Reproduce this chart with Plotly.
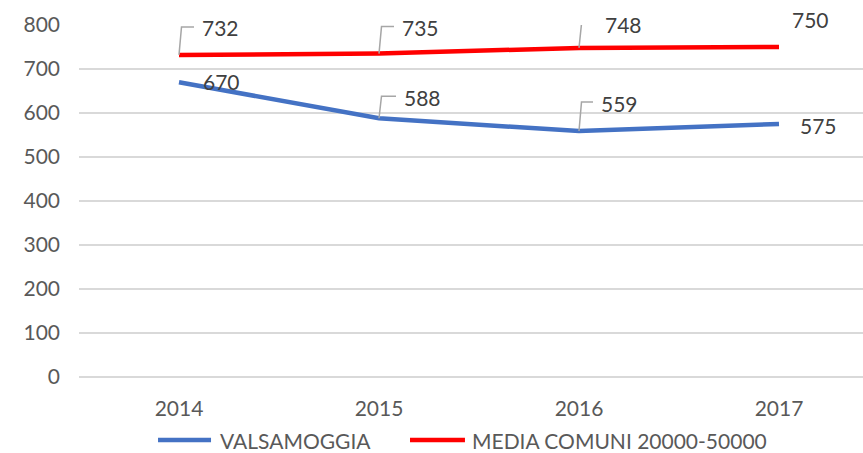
import plotly.graph_objects as go

years = ["2014", "2015", "2016", "2017"]
valsamoggia = [670, 588, 559, 575]
media = [732, 735, 748, 750]
series_names = ["VALSAMOGGIA", "MEDIA COMUNI 20000-50000"]
y_ticks = [0, 100, 200, 300, 400, 500, 600, 700, 800]

# label placement (pixel offsets from point) and whether a leader line is drawn
val_label_off = [(42, 1, False), (43, 21, True), (40, 28, True), (39, -1, False)]
med_label_off = [(41, 27, True), (41, 26, True), (44, 23, True), (31, 28, False)]

BLUE = "#4472C4"
RED = "#FF0000"
AXIS_TXT = "#595959"
LBL_TXT = "#404040"
GRID = "#D9D9D9"
FONT = "Lato"

fig = go.Figure()
fig.add_trace(go.Scatter(x=years, y=valsamoggia, mode="lines", name=series_names[0],
                         line=dict(color=BLUE, width=4.5), showlegend=False, hoverinfo="skip"))
fig.add_trace(go.Scatter(x=years, y=media, mode="lines", name=series_names[1],
                         line=dict(color=RED, width=4.5), showlegend=False, hoverinfo="skip"))

for vals, offs in ((valsamoggia, val_label_off), (media, med_label_off)):
    for i, (v, (dx, dy, leader)) in enumerate(zip(vals, offs)):
        # category axis: position by category serial number
        fig.add_annotation(x=i, y=v, xref="x", yref="y", text=str(v), showarrow=False,
                           xshift=dx, yshift=dy,
                           font=dict(family=FONT, size=21, color=LBL_TXT))
        if leader:
            fig.add_shape(type="path", xref="x", yref="y", xsizemode="pixel", ysizemode="pixel",
                          xanchor=i, yanchor=v,
                          path=f"M0,0 L2.5,{dy+1} L{dx-26},{dy+1}",
                          line=dict(color="#A6A6A6", width=1.5))

# custom legend (bottom)
leg_y = -0.179
legend_items = [(series_names[0], BLUE, 0.1008, 0.1684, 0.1773),
                (series_names[1], RED, 0.4222, 0.4923, 0.4987)]
for name, col, x0, x1, xt in legend_items:
    fig.add_shape(type="line", xref="paper", yref="paper", x0=x0, x1=x1, y0=leg_y, y1=leg_y,
                  line=dict(color=col, width=4.5))
    fig.add_annotation(x=xt, y=leg_y, xref="paper", yref="paper", text=name, showarrow=False,
                       xanchor="left", yanchor="middle",
                       font=dict(family=FONT, size=21, color=AXIS_TXT))

fig.update_layout(
    width=863, height=453,
    margin=dict(l=79, r=0, t=25, b=76),
    plot_bgcolor="white", paper_bgcolor="white",
    font=dict(family=FONT, size=21, color=AXIS_TXT),
    showlegend=False,
)
fig.update_xaxes(type="category", range=[-0.5, 3.42], showgrid=False, showline=False,
                 zeroline=False, ticks="", ticklabelstandoff=17,
                 tickfont=dict(family=FONT, size=21, color=AXIS_TXT))
fig.update_yaxes(range=[0, 800], tickvals=y_ticks, showgrid=True, gridcolor=GRID, gridwidth=1.5,
                 zeroline=True, zerolinecolor=GRID, zerolinewidth=1.5, showline=False,
                 ticks="", ticklabelstandoff=18,
                 tickfont=dict(family=FONT, size=21, color=AXIS_TXT))

fig.write_html("out.html", config={"displayModeBar": False},
               post_script="document.body.style.margin='0px';")
